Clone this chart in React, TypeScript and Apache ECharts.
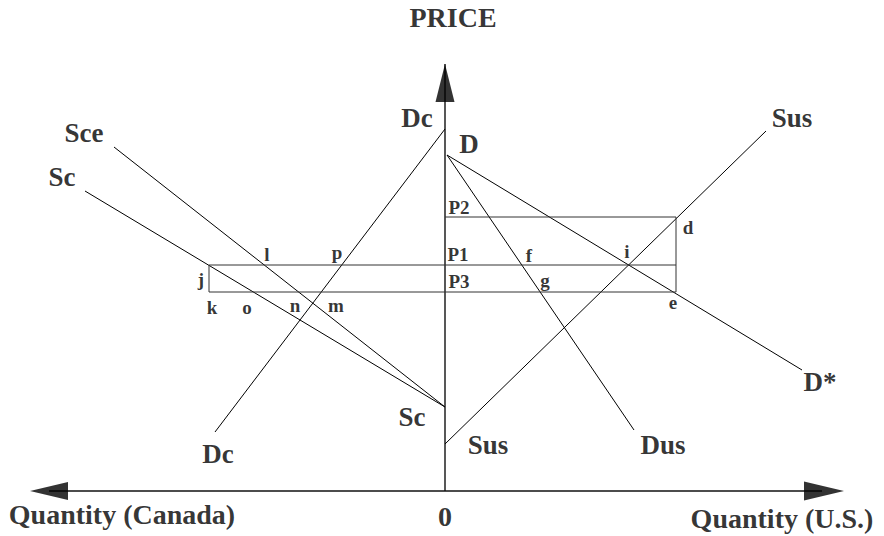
import React, { useEffect, useRef } from "react";
import * as echarts from "echarts";

// Supply / demand schedules (quantity, price). Canada quantities are negative (to the left).
const supplyCanada: number[][] = [[-36, 30], [0, 8.4]]; // Sc
const supplyCanadaExport: number[][] = [[-33.1, 34.4], [0, 8.4]]; // Sce
const demandCanada: number[][] = [[0, 36.2], [-23, 5.9]]; // Dc
const demandTotal: number[][] = [[0.2, 33.6], [35.7, 12.1]]; // D -> D*
const demandUS: number[][] = [[0.2, 33.6], [18.9, 6.1]]; // Dus
const supplyUS: number[][] = [[0, 4.7], [32.1, 36]]; // Sus

// Price levels and trade quantities
const priceLevels = { P2: 27.4, P1: 22.6, P3: 19.9 };
const quantityCanadaEdge = -23.6;
const quantityUSEdge = 23.1;

// Axes extents
const priceAxisTop = 42.7;
const quantityAxisLeft = -39.6;
const quantityAxisRight = 37.7;

// Curve labels: [text, quantity, price]
const curveLabels: [string, number, number][] = [
  ["Dc", -2.8, 37.3],
  ["Sce", -36.1, 35.8],
  ["Sc", -38.3, 31.4],
  ["D", 2.4, 34.7],
  ["Sus", 34.7, 37.3],
  ["D*", 37.5, 10.9],
  ["Sc", -3.3, 7.4],
  ["Dc", -22.7, 3.7],
  ["Sus", 4.3, 4.6],
  ["Dus", 21.8, 4.6],
];

// Point labels: [text, quantity, price]
const pointLabels: [string, number, number][] = [
  ["P2", 1.4, 28.4],
  ["P1", 1.3, 23.7],
  ["P3", 1.4, 21.0],
  ["d", 24.3, 26.4],
  ["i", 18.2, 24.0],
  ["f", 8.4, 23.6],
  ["g", 10.0, 21.1],
  ["e", 22.8, 18.9],
  ["l", -17.8, 23.7],
  ["p", -10.8, 23.9],
  ["j", -24.4, 21.2],
  ["k", -23.3, 18.4],
  ["o", -19.8, 18.4],
  ["n", -15.0, 18.6],
  ["m", -10.9, 18.6],
];

// Axis titles: [text, quantity, price]
const axisTitles: [string, number, number][] = [
  ["PRICE", 0.8, 47.4],
  ["Quantity (Canada)", -32.3, -2.3],
  ["0", 0, -2.5],
  ["Quantity (U.S.)", 33.7, -2.7],
];

const FONT = "'Liberation Serif', 'Times New Roman', serif";

function lineSeries(data: number[][], color = "#000", width = 1) {
  return {
    type: "line",
    data,
    showSymbol: false,
    symbol: "none",
    silent: true,
    lineStyle: { color, width },
    z: 2,
  };
}

function labelSeries(items: [string, number, number][], size: number) {
  return {
    type: "scatter",
    symbol: "circle",
    symbolSize: 1,
    silent: true,
    itemStyle: { color: "rgba(0,0,0,0)" },
    data: items.map(([t, x, y]) => ({ name: t, value: [x, y] })),
    label: {
      show: true,
      position: "inside",
      formatter: (p: any) => p.name,
      color: "#000",
      fontFamily: FONT,
      fontWeight: "bold",
      fontSize: size,
    },
    labelLayout: { hideOverlap: false },
    z: 5,
  };
}

export default function App() {
  const ref = useRef<HTMLDivElement>(null);
  useEffect(() => {
    document.body.style.margin = "0";
    if (!ref.current) return;
    const chart = echarts.init(ref.current, undefined, { renderer: "svg" });
    const { P1, P2, P3 } = priceLevels;
    const option: any = {
      animation: false,
      backgroundColor: "#fff",
      grid: { left: 0, right: 0, top: 0, bottom: 0, outerBoundsMode: "none" },
      xAxis: { type: "value", min: -44.5, max: 43.9, show: false },
      yAxis: { type: "value", min: -4.5, max: 49.1, show: false },
      series: [
        lineSeries([[0, 0], [0, priceAxisTop]], "#111", 1.4),
        lineSeries([[quantityAxisLeft, 0], [quantityAxisRight, 0]], "#111", 1.4),
        lineSeries(supplyCanada),
        lineSeries(supplyCanadaExport),
        lineSeries(demandCanada),
        lineSeries(demandTotal),
        lineSeries(demandUS),
        lineSeries(supplyUS),
        lineSeries([[0, P2], [quantityUSEdge, P2], [quantityUSEdge, P3]], "#333", 1),
        lineSeries([[quantityCanadaEdge, P1], [quantityUSEdge, P1]], "#333", 1),
        lineSeries([[quantityUSEdge, P3], [quantityCanadaEdge, P3], [quantityCanadaEdge, P1]], "#333", 1),
        {
          type: "scatter",
          silent: true,
          symbol: "triangle",
          itemStyle: { color: "#000" },
          data: [
            { value: [0, priceAxisTop - 1.9], symbolSize: [19, 38], symbolRotate: 0 },
            { value: [quantityAxisLeft, 0], symbolSize: [18, 38], symbolRotate: 90 },
            { value: [quantityAxisRight + 0.2, 0], symbolSize: [19, 40], symbolRotate: -90 },
          ],
          z: 4,
        },
        labelSeries(curveLabels, 27),
        labelSeries(pointLabels, 19),
        labelSeries(axisTitles, 28),
      ],
    };
    chart.setOption(option);
    return () => chart.dispose();
  }, []);
  return <div ref={ref} style={{ width: 884, height: 536 }} />;
}
